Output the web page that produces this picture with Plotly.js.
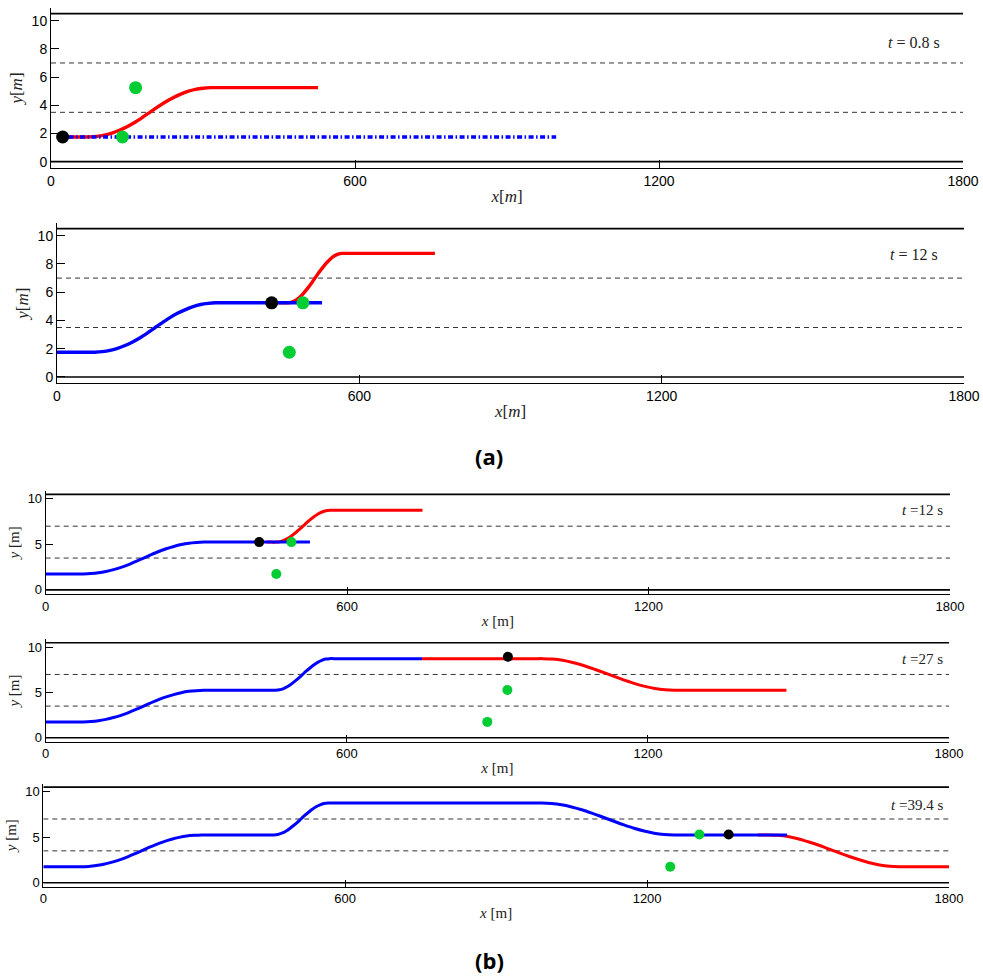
<!DOCTYPE html>
<html>
<head>
<meta charset="utf-8">
<script src="https://cdn.plot.ly/plotly-3.0.1.min.js"></script>
<style>html,body{margin:0;padding:0;background:#fff;}#chart{width:983px;height:976px;}</style>
</head>
<body>
<div id="chart"></div>
<script>
// ---------- data ----------
const xTicks = [0, 600, 1200, 1800];
const yTicksA = [0, 2, 4, 6, 8, 10];
const yTicksB = [0, 5, 10];
const laneY = [0, 3.5, 7, 10.5];
const laneX = [0, 1800];
const timeLabels = ['0.8', '12', '12', '27', '39.4'];

// lane-change manoeuvres of the ego path (x in m, y in m)
const lc1X = [60, 75, 90, 105, 120, 135, 150, 165, 180, 195, 210, 225, 240, 255, 270, 285, 300, 315];
const lc1Y = [1.75, 1.75, 1.79, 1.88, 2.03, 2.23, 2.48, 2.78, 3.13, 3.5, 3.87, 4.22, 4.52, 4.77, 4.98, 5.13, 5.21, 5.25];
const lc2X = [458, 466, 474, 482, 490, 498, 505, 512, 519, 526, 534, 542, 550, 558, 566];
const lc2Y = [5.25, 5.3, 5.44, 5.66, 5.96, 6.31, 6.64, 7.0, 7.36, 7.69, 8.04, 8.34, 8.56, 8.7, 8.75];
const lc3X = [990, 1010, 1030, 1050, 1070, 1090, 1106, 1122, 1138, 1154, 1174, 1194, 1214, 1234, 1254];
const lc3Y = [8.75, 8.7, 8.56, 8.32, 8.02, 7.65, 7.33, 7.0, 6.67, 6.35, 5.98, 5.68, 5.44, 5.3, 5.25];
const lc4X = [1440, 1460, 1480, 1500, 1520, 1540, 1556, 1571, 1586, 1602, 1622, 1642, 1662, 1682, 1702];
const lc4Y = [5.25, 5.21, 5.08, 4.83, 4.5, 4.14, 3.81, 3.5, 3.19, 2.88, 2.52, 2.2, 1.95, 1.8, 1.75];

// panel 1 (t = 0.8 s)
const p1RedX = [12, 36, 50].concat(lc1X, [330, 527]);
const p1RedY = [1.75, 1.75, 1.75].concat(lc1Y, [5.25, 5.25]);
const p1BlueX = [12, 997];
const p1BlueY = [1.75, 1.75];
const p1BlackX = [23];
const p1BlackY = [1.75];
const p1GreenX = [141, 167];
const p1GreenY = [1.75, 5.25];

// panel 2 (t = 12 s, a)
const p2BlueX = [0, 36, 50].concat(lc1X, [330, 526]);
const p2BlueY = [1.75, 1.75, 1.75].concat(lc1Y, [5.25, 5.25]);
const p2RedX = [440, 450].concat(lc2X, [574, 750]);
const p2RedY = [5.25, 5.25].concat(lc2Y, [8.75, 8.75]);
const p2BlackX = [426];
const p2BlackY = [5.25];
const p2GreenX = [461, 488];
const p2GreenY = [1.75, 5.25];

// panel 3 (t = 12 s, b)
const p3BlueX = [0, 36, 50].concat(lc1X, [330, 526]);
const p3BlueY = [1.75, 1.75, 1.75].concat(lc1Y, [5.25, 5.25]);
const p3RedX = [440, 450].concat(lc2X, [574, 750]);
const p3RedY = [5.25, 5.25].concat(lc2Y, [8.75, 8.75]);
const p3BlackX = [425];
const p3BlackY = [5.25];
const p3GreenX = [459, 489];
const p3GreenY = [1.75, 5.25];

// panel 4 (t = 27 s)
const p4BlueX = [0, 36, 50].concat(lc1X, [330, 440, 450], lc2X, [574, 750]);
const p4BlueY = [1.75, 1.75, 1.75].concat(lc1Y, [5.25, 5.25, 5.25], lc2Y, [8.75, 8.75]);
const p4RedX = [750, 970, 980].concat(lc3X, [1264, 1476]);
const p4RedY = [8.75, 8.75, 8.75].concat(lc3Y, [5.25, 5.25]);
const p4BlackX = [921];
const p4BlackY = [8.95];
const p4GreenX = [880, 920];
const p4GreenY = [1.75, 5.28];

// panel 5 (t = 39.4 s)
const p5BlueX = [0, 36, 50].concat(lc1X, [330, 440, 450], lc2X, [574, 970, 980], lc3X, [1264, 1478]);
const p5BlueY = [1.75, 1.75, 1.75].concat(lc1Y, [5.25, 5.25, 5.25], lc2Y, [8.75, 8.75, 8.75], lc3Y, [5.25, 5.25]);
const p5RedX = [1420, 1430].concat(lc4X, [1712, 1800]);
const p5RedY = [5.25, 5.25].concat(lc4Y, [1.75, 1.75]);
const p5BlackX = [1362];
const p5BlackY = [5.3];
const p5GreenX = [1246, 1304];
const p5GreenY = [1.76, 5.3];

// ---------- layout / styles ----------
const W = 983, H = 976;
const RED = '#ff0000', BLUE = '#0000ff', GREEN = '#00cc33';
const sans = 'Liberation Sans, Arial, sans-serif';
const serif = 'Liberation Serif, Times New Roman, serif';

const panels = [
  {red: [p1RedX, p1RedY], blue: [p1BlueX, p1BlueY], blueDash: '5px,2.5px,1.5px,2.5px',
   black: [p1BlackX, p1BlackY], green: [p1GreenX, p1GreenY],
   px: [51, 963], py: [8, 168], yTicks: yTicksA, style: 'a', tx: 1758, ty: 8.46},
  {red: [p2RedX, p2RedY], blue: [p2BlueX, p2BlueY], blueDash: 'solid',
   black: [p2BlackX, p2BlackY], green: [p2GreenX, p2GreenY],
   px: [57, 964], py: [223, 383.3], yTicks: yTicksA, style: 'a', tx: 1752, ty: 8.69},
  {red: [p3RedX, p3RedY], blue: [p3BlueX, p3BlueY], blueDash: 'solid',
   black: [p3BlackX, p3BlackY], green: [p3GreenX, p3GreenY],
   px: [45.7, 950], py: [490.7, 594], yTicks: yTicksB, style: 'b', tx: 1790, ty: 8.79},
  {red: [p4RedX, p4RedY], blue: [p4BlueX, p4BlueY], blueDash: 'solid',
   black: [p4BlackX, p4BlackY], green: [p4GreenX, p4GreenY],
   px: [45.7, 949], py: [639.2, 741.8], yTicks: yTicksB, style: 'b', tx: 1792, ty: 8.67},
  {red: [p5RedX, p5RedY], blue: [p5BlueX, p5BlueY], blueDash: 'solid',
   black: [p5BlackX, p5BlackY], green: [p5GreenX, p5GreenY],
   px: [43.3, 949], py: [783.5, 886.8], yTicks: yTicksB, style: 'b', tx: 1792, ty: 8.54}
];

const traces = [];
const layout = {
  width: W, height: H,
  margin: {l: 0, r: 0, t: 0, b: 0},
  paper_bgcolor: '#fff', plot_bgcolor: '#fff',
  showlegend: false,
  annotations: [],
  font: {family: sans, color: '#000'}
};

panels.forEach((p, i) => {
  const n = i + 1;
  const xa = 'x' + (n === 1 ? '' : n), ya = 'y' + (n === 1 ? '' : n);
  const isA = p.style === 'a';
  const lw = isA ? 3.4 : 3;
  const ms = isA ? 13 : 10;

  laneY.forEach((ly, k) => {
    const edge = (k === 0 || k === laneY.length - 1);
    traces.push({x: laneX, y: [ly, ly], xaxis: xa, yaxis: ya, mode: 'lines', hoverinfo: 'skip',
      line: {color: edge ? '#000' : '#333', width: edge ? 1.6 : 1, dash: edge ? 'solid' : '5px,4px'}});
  });
  traces.push({x: p.red[0], y: p.red[1], xaxis: xa, yaxis: ya, mode: 'lines',
    line: {color: RED, width: lw, shape: 'spline', smoothing: 0.8, simplify: false}});
  traces.push({x: p.blue[0], y: p.blue[1], xaxis: xa, yaxis: ya, mode: 'lines',
    line: {color: BLUE, width: lw, shape: 'spline', smoothing: 0.8, simplify: false, dash: p.blueDash}});
  traces.push({x: p.green[0], y: p.green[1], xaxis: xa, yaxis: ya, mode: 'markers',
    marker: {color: GREEN, size: ms}});
  traces.push({x: p.black[0], y: p.black[1], xaxis: xa, yaxis: ya, mode: 'markers',
    marker: {color: '#000', size: ms}});

  const tickFont = {family: sans, size: isA ? 14 : 13, color: '#000'};
  const titleFont = {family: serif, size: isA ? 17 : 15, color: '#222'};
  layout['xaxis' + (n === 1 ? '' : n)] = {
    domain: [p.px[0] / W, p.px[1] / W], anchor: ya, range: [0, 1800],
    tickmode: 'array', tickvals: xTicks, ticktext: xTicks.map(String),
    ticks: 'inside', ticklen: isA ? 8 : 7, tickcolor: '#000', tickwidth: 1,
    showline: true, linecolor: '#000', linewidth: 1, mirror: false,
    showgrid: false, zeroline: false, tickfont: tickFont,
    title: {text: isA ? '<i>x</i>[<i>m</i>]' : '<i>x</i> [m]', font: titleFont, standoff: 2}
  };
  layout['yaxis' + (n === 1 ? '' : n)] = {
    domain: [1 - p.py[1] / H, 1 - p.py[0] / H], anchor: xa, range: [-0.45, 10.9],
    tickmode: 'array', tickvals: p.yTicks, ticktext: p.yTicks.map(String),
    ticks: 'inside', ticklen: isA ? 8 : 7, tickcolor: '#000', tickwidth: 1,
    showline: true, linecolor: '#000', linewidth: 1, mirror: false,
    showgrid: false, zeroline: false, tickfont: tickFont,
    title: {text: isA ? '<i>y</i>[<i>m</i>]' : '<i>y</i> [m]', font: titleFont, standoff: 4}
  };
  layout.annotations.push({
    xref: xa, yref: ya, x: p.tx, y: p.ty, xanchor: 'right', yanchor: 'middle', showarrow: false,
    text: '<i>t</i> ' + (isA ? '= ' : '=') + timeLabels[i] + ' s',
    font: {family: serif, size: isA ? 16 : 15, color: '#222'}
  });
});

layout.annotations.push({xref: 'paper', yref: 'paper', x: 489 / W, y: 1 - 456 / H, xanchor: 'center', yanchor: 'middle',
  showarrow: false, text: '<b>(a)</b>', font: {family: 'Open Sans, DejaVu Sans, sans-serif', size: 22, color: '#000'}});
layout.annotations.push({xref: 'paper', yref: 'paper', x: 489 / W, y: 1 - 960 / H, xanchor: 'center', yanchor: 'middle',
  showarrow: false, text: '<b>(b)</b>', font: {family: 'Open Sans, DejaVu Sans, sans-serif', size: 22, color: '#000'}});

Plotly.newPlot('chart', traces, layout, {staticPlot: true, displayModeBar: false});
</script>
</body>
</html>
